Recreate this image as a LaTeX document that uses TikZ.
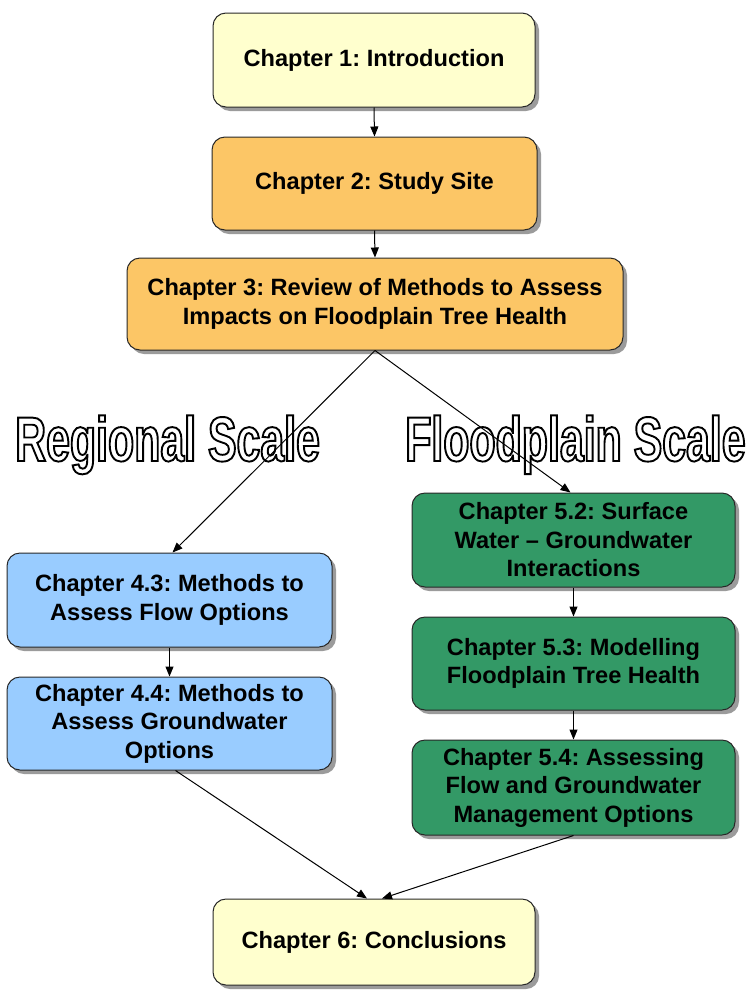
\documentclass[tikz,border=0pt]{standalone}
\usepackage{fontspec}
\setmainfont{Liberation Sans}
\newfontfamily\scalelabelfont[FakeStretch=0.68]{Liberation Sans}
\usetikzlibrary{shadows,arrows.meta}
\frenchspacing

% hollow lettering: glyphs stroked in black, not filled
\newcommand{\hollowtext}[1]{%
  \special{pdf:literal direct 1 Tr 1.9 w 0 0 0 RG}#1\special{pdf:literal direct 0 Tr}}

\definecolor{introfill}{RGB}{255,255,206}
\definecolor{sitefill}{RGB}{252,198,102}
\definecolor{regionfill}{RGB}{153,204,255}
\definecolor{floodfill}{RGB}{51,153,102}
\definecolor{edgecol}{RGB}{40,40,40}

\tikzset{
  chapbox/.style={draw=edgecol, line width=1pt, rounded corners=13pt,
    align=center, inner sep=0pt,
    font=\bfseries\fontsize{23.6}{28.5}\selectfont,
    minimum width=324pt, minimum height=94pt,
    drop shadow={shadow xshift=4pt, shadow yshift=-4pt, fill=black!60, opacity=0.65}},
  link/.style={draw=black, line width=1pt, -{Triangle[length=10pt,width=8pt]}},
  scalelabel/.style={anchor=base west, inner sep=0pt,
    font=\scalelabelfont\bfseries\fontsize{63}{63}\selectfont}
}

\begin{document}
\begin{tikzpicture}[x=1pt,y=-1pt]
  \path[use as bounding box, fill=white] (0,0) rectangle (748,994);

  % chapter boxes
  \node[chapbox, fill=introfill, minimum width=322pt] (c1) at (374,60) {Chapter 1: Introduction};
  \node[chapbox, fill=sitefill, minimum width=325pt, minimum height=93pt] (c2) at (374.5,183.5) {Chapter 2: Study Site};
  \node[chapbox, fill=sitefill, minimum width=496pt, minimum height=92pt] (c3) at (375,304)
    {Chapter 3: Review of Methods to Assess\\Impacts on Floodplain Tree Health};

  \node[chapbox, fill=regionfill, minimum width=325pt] (c43) at (169.5,600)
    {Chapter 4.3: Methods to\\Assess Flow Options};
  \node[chapbox, fill=regionfill, minimum width=325pt, minimum height=93pt] (c44) at (169.5,723.5)
    {Chapter 4.4: Methods to\\Assess Groundwater\\Options};

  \node[chapbox, fill=floodfill, minimum width=323pt] (c52) at (573.5,540)
    {Chapter 5.2: Surface\\Water -- Groundwater\\Interactions};
  \node[chapbox, fill=floodfill, minimum width=323pt, minimum height=93pt] (c53) at (573.5,663.5)
    {Chapter 5.3: Modelling\\Floodplain Tree Health};
  \node[chapbox, fill=floodfill, minimum width=323pt, minimum height=95pt] (c54) at (573.5,787.5)
    {Chapter 5.4: Assessing\\Flow and Groundwater\\Management Options};

  \node[chapbox, fill=introfill, minimum width=322pt, minimum height=86pt] (c6) at (374,942)
    {Chapter 6: Conclusions};

  % outlined scale headings
  \node[scalelabel] (regional) at (15,461) {\hollowtext{Regional Scale}};
  \node[scalelabel] (floodplain) at (405,461) {\hollowtext{Floodplain Scale}};

  % connectors
  \draw[link] (c1.south) -- (c2.north);
  \draw[link] (c2.south) -- (c3.north);
  \draw[link] (c3.south) -- ([xshift=3pt]c43.north);
  \draw[link] (c3.south) -- ([xshift=-3pt]c52.north);
  \draw[link] (c43.south) -- (c44.north);
  \draw[link] (c52.south) -- (c53.north);
  \draw[link] (c53.south) -- (c54.north);
  \draw[link] ([xshift=6pt]c44.south) -- ([xshift=-7pt]c6.north);
  \draw[link] (c54.south) -- ([xshift=8pt]c6.north);
\end{tikzpicture}
\end{document}
